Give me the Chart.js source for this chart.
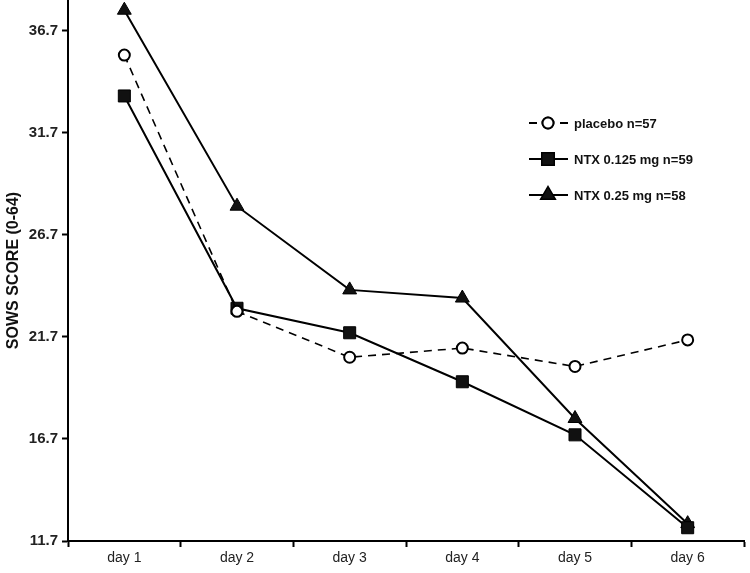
<!DOCTYPE html>
<html>
<head>
<meta charset="utf-8">
<script src="https://cdn.jsdelivr.net/npm/chart.js@4"></script>
<style>
  html, body { margin: 0; padding: 0; background: #fff; }
  #wrap { width: 750px; height: 573px; }
</style>
</head>
<body>
<div id="wrap"><canvas id="sows" width="750" height="573"></canvas></div>
<script>
// data
const days = ['day 1', 'day 2', 'day 3', 'day 4', 'day 5', 'day 6'];
const placebo = [35.5, 22.95, 20.7, 21.15, 20.25, 21.55];
const ntx0125 = [33.5, 23.1, 21.9, 19.5, 16.9, 12.35];
const ntx025 = [37.7, 28.1, 24.0, 23.6, 17.7, 12.55];
const yTicks = [11.7, 16.7, 21.7, 26.7, 31.7, 36.7];
const seriesNames = ['placebo n=57', 'NTX 0.125 mg n=59', 'NTX 0.25 mg n=58'];

const FONT = "'Liberation Sans', Arial, sans-serif";

// legend sits inside the plot on the right, drawn by hand
const insideLegend = {
  id: 'insideLegend',
  afterDraw(chart) {
    const ctx = chart.ctx;
    const rows = [123, 159, 195];
    ctx.save();
    chart.data.datasets.forEach((ds, i) => {
      const y = rows[i];
      ctx.strokeStyle = '#000';
      ctx.lineWidth = 2;
      ctx.beginPath();
      if (ds.borderDash) {
        ctx.moveTo(529, y); ctx.lineTo(537, y);
        ctx.moveTo(560, y); ctx.lineTo(568, y);
      } else {
        ctx.moveTo(529, y); ctx.lineTo(568, y);
      }
      ctx.stroke();
      Chart.helpers.drawPoint(ctx, {
        pointStyle: ds.pointStyle,
        radius: ds.pointRadius,
        borderWidth: ds.pointBorderWidth
      }, 548, y);
      ctx.fillStyle = ds.pointBackgroundColor;
      ctx.fill();
      ctx.lineWidth = ds.pointBorderWidth;
      ctx.stroke();
      ctx.fillStyle = '#111';
      ctx.font = 'bold 13px ' + FONT;
      ctx.textAlign = 'left';
      ctx.textBaseline = 'middle';
      ctx.fillText(seriesNames[i], 574, y + 1);
    });
    ctx.restore();
  }
};

new Chart(document.getElementById('sows'), {
  type: 'line',
  data: {
    labels: days,
    datasets: [
      {
        label: seriesNames[0],
        data: placebo,
        borderColor: '#000',
        borderWidth: 1.6,
        borderDash: [8, 6],
        pointStyle: 'circle',
        pointRadius: 5.5,
        pointBorderWidth: 2,
        pointBackgroundColor: '#fff',
        pointBorderColor: '#000'
      },
      {
        label: seriesNames[1],
        data: ntx0125,
        borderColor: '#000',
        borderWidth: 2,
        pointStyle: 'rect',
        pointRadius: 8.5,
        pointBorderWidth: 1,
        pointBackgroundColor: '#111',
        pointBorderColor: '#000'
      },
      {
        label: seriesNames[2],
        data: ntx025,
        borderColor: '#000',
        borderWidth: 2,
        pointStyle: 'triangle',
        pointRadius: 8,
        pointBorderWidth: 1,
        pointBackgroundColor: '#111',
        pointBorderColor: '#000'
      }
    ]
  },
  options: {
    responsive: false,
    animation: false,
    layout: { autoPadding: false, padding: { top: 0, right: 6, left: 0, bottom: 0 } },
    plugins: {
      legend: { display: false },
      tooltip: { enabled: false }
    },
    elements: { line: { tension: 0 } },
    scales: {
      x: {
        offset: true,
        grid: {
          offset: true,
          drawOnChartArea: false,
          drawTicks: true,
          tickLength: 6,
          tickWidth: 2,
          tickColor: '#000'
        },
        border: { display: true, color: '#000', width: 2 },
        ticks: {
          color: '#222',
          padding: 3,
          font: { family: FONT, size: 14 }
        },
        afterFit(scale) { scale.height = 32; }
      },
      y: {
        min: 11.7,
        max: 38.2,
        afterBuildTicks(scale) {
          scale.ticks = yTicks.map(v => ({ value: v }));
        },
        grid: {
          drawOnChartArea: false,
          drawTicks: true,
          tickLength: 6,
          tickWidth: 2,
          tickColor: '#000'
        },
        border: { display: true, color: '#000', width: 2 },
        ticks: {
          color: '#222',
          padding: 4,
          font: { family: FONT, size: 15, weight: 'bold' },
          callback: v => v.toFixed(1)
        },
        title: {
          display: true,
          text: 'SOWS SCORE (0-64)',
          color: '#111',
          font: { family: FONT, size: 16, weight: 'bold' },
          padding: { top: 4, bottom: 0 }
        },
        afterFit(scale) {
          scale.width = 68;
          scale.paddingTop = 0;
          scale.paddingBottom = 0;
        }
      }
    }
  },
  plugins: [insideLegend]
});
</script>
</body>
</html>
